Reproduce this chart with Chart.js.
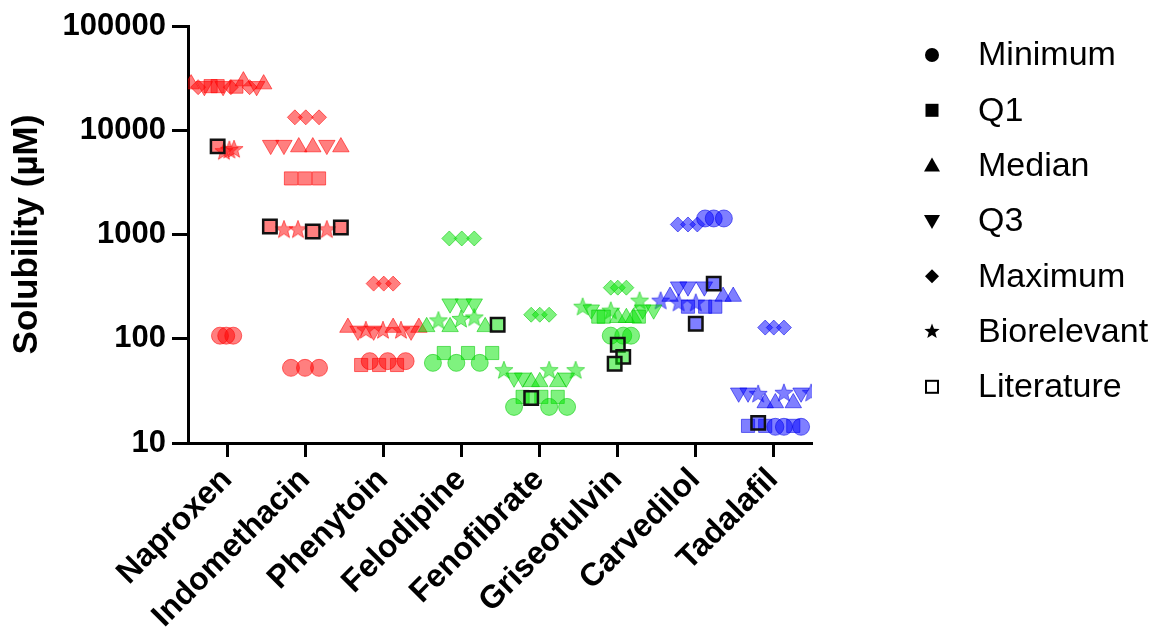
<!DOCTYPE html>
<html><head><meta charset="utf-8">
<script src="https://cdn.jsdelivr.net/npm/chart.js@4/dist/chart.umd.min.js"></script>
<style>html,body{margin:0;padding:0;background:#fff;} canvas{display:block;}</style>
</head><body>
<canvas id="c" width="1156" height="631"></canvas>
<script>
// ---------- data ----------
const categories = ['Naproxen','Indomethacin','Phenytoin','Felodipine','Fenofibrate','Griseofulvin','Carvedilol','Tadalafil'];
const yTickValues = [10, 100, 1000, 10000, 100000];
const legendLabels = ['Minimum','Q1','Median','Q3','Maximum','Biorelevant','Literature'];
const yAxisTitle = 'Solubility (µM)';

const minimumValues = [[107,107,107],[52.6,52.6,52.6],[61,61,61],[58.7,58.7,58.7],[22.2,22.2,22.2],[107,107,107],[1425,1425,1425],[14.3,14.3,14.3]];
const q1Values      = [[26500,26500,26200],[3450,3450,3450],[56,56,56],[73,73,73],[27.7,27.7,27.7],[163,163,163],[203,203,203],[14.6,14.6,14.6]];
const medianValues  = [[27700,29600,27700],[6900,6900,6900],[128,128,128],[130,130,130],[38.6,38.6,38.6],[159,159,159],[254,254,254],[24.2,24.2,24.2]];
const q3Values      = [[26400,26400,26400],[7200,7200,7200],[119,119,119],[217,217,217],[42.2,42.2,42.2],[190,190,190],[316,316,316],[30.3,30.3,30.3]];
const maximumValues = [[25900,25900,25900],[13300,13300,13300],[338,338,338],[916,916,916],[170,170,170],[309,309,309],[1248,1248,1248],[128,128,128]];
const biorelevantValues = [[6300,6500,6600],[1120,1120,1120],[121,121,121],[150,155,160],[50,50,50],[203,186,232],[232,222,222],[29.6,30.3,30.3]];
const literatureValues  = [[7000],[1194,1070,1167],[],[136],[27],[87.5,67,57.5],[338,139],[15.6]];

// horizontal jitter of each replicate within its category (category units)
const minimumJitter = [[-0.09,-0.01,0.08],[-0.18,0,0.18],[-0.17,0.06,0.29],[-0.36,-0.06,0.24],[-0.32,0.13,0.36],[-0.08,0.08,0.18],[0.13,0.24,0.37],[0.03,0.14,0.36]];
const q1Jitter      = [[-0.21,-0.12,0.12],[-0.18,0,0.18],[-0.28,-0.05,0.18],[-0.22,0.09,0.40],[-0.21,0.03,0.24],[-0.24,-0.17,0.28],[-0.09,0.13,0.26],[-0.32,-0.10,0.26]];
const medianJitter  = [[-0.46,0.21,0.47],[-0.08,0.10,0.46],[-0.45,0.13,0.46],[-0.44,-0.14,0.31],[-0.10,0.01,0.24],[0.01,0.12,0.21],[-0.32,0.36,0.49],[-0.10,0.03,0.26]];
const q3Jitter      = [[-0.29,-0.05,0.38],[-0.44,-0.27,0.28],[-0.32,-0.12,0.36],[-0.14,0.03,0.17],[-0.32,-0.21,0.35],[-0.33,0.33,0.47],[-0.21,-0.09,0.12],[-0.44,-0.32,0.36]];
const maximumJitter = [[-0.37,0.05,0.29],[-0.13,0.01,0.18],[-0.12,0.01,0.13],[-0.15,0.01,0.17],[-0.10,0.01,0.13],[-0.08,0.01,0.12],[-0.22,-0.09,0.03],[-0.10,0.01,0.14]];
const biorelevantJitter = [[-0.04,0.03,0.09],[-0.27,-0.09,0.28],[-0.22,0,0.23],[-0.29,0,0.17],[-0.45,0.13,0.47],[-0.44,-0.08,0.29],[-0.44,-0.21,0.01],[-0.19,0.14,0.49]];
const literatureJitter  = [[-0.12],[-0.45,0.10,0.46],[],[0.47],[-0.10],[0.01,0.08,-0.03],[0.24,0.01],[-0.19]];

// ---------- styles ----------
const drugColourGroup = [0,0,0,1,1,1,2,2];
const groupFill   = ['rgba(255,0,0,0.5)','rgba(0,230,0,0.5)','rgba(0,0,255,0.5)'];
const groupBorder = ['rgba(255,0,0,0.55)','rgba(0,200,0,0.55)','rgba(0,0,230,0.55)'];
const FONT = '"Liberation Sans", Arial, sans-serif';

function starPath(ctx, cx, cy, R, r) {
  ctx.beginPath();
  for (let k = 0; k < 10; k++) {
    const rad = (k % 2 === 0) ? R : r;
    const a = -Math.PI / 2 + k * Math.PI / 5;
    const px = cx + rad * Math.cos(a), py = cy + rad * Math.sin(a);
    if (k === 0) ctx.moveTo(px, py); else ctx.lineTo(px, py);
  }
  ctx.closePath();
}
const starCanvases = groupFill.map((fill, g) => {
  const cv = document.createElement('canvas');
  cv.width = 22; cv.height = 22;
  const c = cv.getContext('2d');
  starPath(c, 11, 11.5, 9.5, 4);
  c.fillStyle = fill; c.fill();
  c.strokeStyle = groupBorder[g]; c.lineWidth = 1; c.stroke();
  return cv;
});

function buildPoints(values, jitter) {
  const pts = [];
  values.forEach((arr, i) => arr.forEach((v, j) => pts.push({x: i + jitter[i][j], y: v, drug: i})));
  return pts;
}
const fillOf = c => groupFill[drugColourGroup[c.raw ? c.raw.drug : 0]];
const borderOf = c => groupBorder[drugColourGroup[c.raw ? c.raw.drug : 0]];

function ds(label, values, jitter, style, extra) {
  return Object.assign({
    label, data: buildPoints(values, jitter),
    backgroundColor: fillOf, borderColor: borderOf, borderWidth: 1,
    pointStyle: style, pointRadius: 9, pointHoverRadius: 9
  }, extra || {});
}

const datasets = [
  ds('Literature', literatureValues, literatureJitter, 'rect', {order: 0, borderColor: '#111', borderWidth: 2.5, pointRadius: 9.5, pointHoverRadius: 9.5}),
  ds('Minimum', minimumValues, minimumJitter, 'circle', {order: 1, pointRadius: 8.5}),
  ds('Q1', q1Values, q1Jitter, 'rect', {order: 2, pointRadius: 9.3, pointHoverRadius: 9.3}),
  ds('Median', medianValues, medianJitter, 'triangle', {order: 3, pointRadius: 9.5}),
  ds('Q3', q3Values, q3Jitter, 'triangle', {order: 4, pointRadius: 9.5, rotation: 180}),
  ds('Maximum', maximumValues, maximumJitter, 'rectRot', {order: 5, pointRadius: 7.5}),
  ds('Biorelevant', biorelevantValues, biorelevantJitter, c => starCanvases[drugColourGroup[c.raw ? c.raw.drug : 0]], {order: 6})
];

// ---------- legend (right side) ----------
const legendKinds = ['circle','square','triangle','invtriangle','diamond','star','opensquare'];
function drawLegendMarker(ctx, kind, x, y) {
  ctx.fillStyle = '#000'; ctx.strokeStyle = '#000';
  ctx.beginPath();
  if (kind === 'circle') { ctx.arc(x, y, 7, 0, Math.PI * 2); ctx.fill(); }
  else if (kind === 'square') { ctx.fillRect(x - 6.5, y - 6.5, 13, 13); }
  else if (kind === 'triangle') { ctx.moveTo(x, y - 8); ctx.lineTo(x + 8, y + 6); ctx.lineTo(x - 8, y + 6); ctx.closePath(); ctx.fill(); }
  else if (kind === 'invtriangle') { ctx.moveTo(x, y + 8); ctx.lineTo(x + 8, y - 6); ctx.lineTo(x - 8, y - 6); ctx.closePath(); ctx.fill(); }
  else if (kind === 'diamond') { ctx.moveTo(x, y - 7); ctx.lineTo(x + 7, y); ctx.lineTo(x, y + 7); ctx.lineTo(x - 7, y); ctx.closePath(); ctx.fill(); }
  else if (kind === 'star') { starPath(ctx, x, y, 8, 3.4); ctx.fill(); }
  else if (kind === 'opensquare') { ctx.lineWidth = 2; ctx.fillStyle = '#fff'; ctx.fillRect(x - 6, y - 6, 12, 12); ctx.strokeRect(x - 6, y - 6, 12, 12); }
}
const sideLegend = {
  id: 'sideLegend',
  afterDraw(chart) {
    const ctx = chart.ctx;
    ctx.save();
    ctx.font = '34px ' + FONT;
    ctx.textBaseline = 'middle'; ctx.textAlign = 'left';
    legendLabels.forEach((lab, i) => {
      const y = 55 + i * 55.3;
      drawLegendMarker(ctx, legendKinds[i], 932, y);
      ctx.fillStyle = '#000';
      ctx.fillText(lab, 978, y + 1);
    });
    ctx.restore();
  }
};

new Chart(document.getElementById('c'), {
  type: 'scatter',
  data: { datasets },
  plugins: [sideLegend],
  options: {
    responsive: false, animation: false,
    layout: { padding: { top: 26, right: 344, left: 0, bottom: 0 } },
    plugins: { legend: { display: false }, tooltip: { enabled: false } },
    scales: {
      x: {
        type: 'linear', min: -0.5, max: 7.5,
        afterBuildTicks: s => { s.ticks = categories.map((_, i) => ({ value: i })); },
        afterFit: s => { s.height = 188; },
        border: { display: true, color: '#000', width: 3 },
        grid: { drawOnChartArea: false, drawTicks: true, tickLength: 14, tickWidth: 3, tickColor: '#000' },
        ticks: {
          autoSkip: false, minRotation: 45, maxRotation: 45, padding: 4,
          color: '#000', font: { family: FONT, size: 32, weight: 'bold' },
          callback: v => categories[Math.round(v)] || ''
        }
      },
      y: {
        type: 'logarithmic', min: 10, max: 100000,
        afterBuildTicks: s => { s.ticks = yTickValues.map(v => ({ value: v })); },
        afterFit: s => { s.width = 188; },
        border: { display: true, color: '#000', width: 3 },
        grid: { drawOnChartArea: false, drawTicks: true, tickLength: 16, tickWidth: 3, tickColor: '#000' },
        ticks: {
          padding: 6, color: '#000', font: { family: FONT, size: 31, weight: 'bold' },
          callback: v => String(v)
        },
        title: { display: true, text: yAxisTitle, color: '#000', padding: { top: 6, bottom: 0 }, font: { family: FONT, size: 35, weight: 'bold' } }
      }
    }
  }
});
</script>
</body></html>
